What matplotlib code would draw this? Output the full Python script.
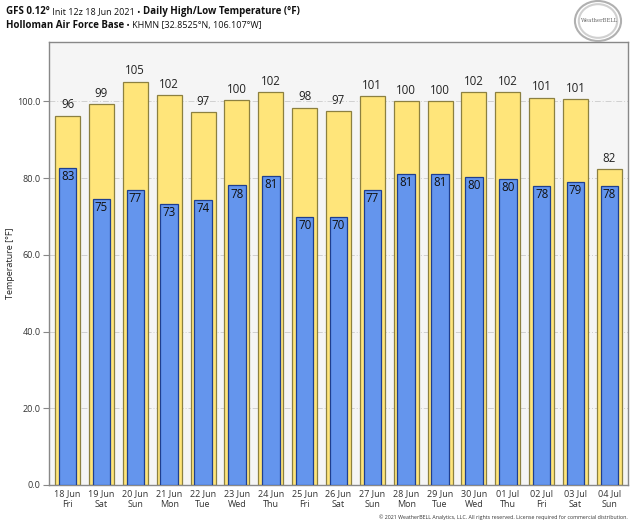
import matplotlib
matplotlib.use("Agg")
import matplotlib.pyplot as plt
from matplotlib.patches import Ellipse

plt.rcParams["font.family"] = ["Open Sans", "DejaVu Sans"]

# Daily values
dates = ["18 Jun", "19 Jun", "20 Jun", "21 Jun", "22 Jun", "23 Jun", "24 Jun",
         "25 Jun", "26 Jun", "27 Jun", "28 Jun", "29 Jun", "30 Jun", "01 Jul",
         "02 Jul", "03 Jul", "04 Jul"]
weekdays = ["Fri", "Sat", "Sun", "Mon", "Tue", "Wed", "Thu", "Fri", "Sat",
            "Sun", "Mon", "Tue", "Wed", "Thu", "Fri", "Sat", "Sun"]
highs = [96.3, 99.3, 105.2, 101.6, 97.3, 100.4, 102.4, 98.4, 97.4, 101.3,
         100.0, 100.2, 102.4, 102.4, 101.0, 100.7, 82.4]
lows = [82.7, 74.6, 77.0, 73.2, 74.4, 78.1, 80.6, 70.0, 69.8, 77.0, 81.1,
        81.0, 80.4, 79.7, 77.9, 78.9, 78.0]
yticks = [0, 20, 40, 60, 80, 100]

fig = plt.figure(figsize=(6.4, 5.26), dpi=100)
ax = fig.add_axes([49 / 640, 1 - 485 / 526, (628 - 49) / 640, (485 - 42) / 526])
ax.set_facecolor("#f5f5f5")

x = list(range(len(dates)))
ax.bar(x, highs, width=0.74, color="#ffe57a", edgecolor="#8c8040", linewidth=0.9, zorder=2)
ax.bar(x, lows, width=0.52, color="#6495ed", edgecolor="#1f3f8f", linewidth=0.9, zorder=3)

for xi, h, l in zip(x, highs, lows):
    ax.annotate(f"{h:.0f}", (xi, h), xytext=(0, 3), textcoords="offset points",
                ha="center", va="bottom", fontsize=8.3, color="#222222", zorder=4)
    ax.annotate(f"{l:.0f}", (xi, l), xytext=(0, -1.5), textcoords="offset points",
                ha="center", va="top", fontsize=8.3, color="#111111", zorder=4)

ax.set_xlim(-0.55, len(dates) - 0.45)
ax.set_ylim(0, 115.5)
ax.set_yticks(yticks)
ax.set_yticklabels([f"{v:.1f}" for v in yticks], fontsize=6.5, color="#333333")
ax.set_xticks(x)
ax.set_xticklabels([f"{d}\n{w}" for d, w in zip(dates, weekdays)],
                   fontsize=6.5, color="#333333", linespacing=1.3)
ax.tick_params(axis="x", length=0, pad=3)
ax.tick_params(axis="y", length=4, color="#888888", pad=2)
ax.yaxis.grid(True, color="#d0d0d0", linestyle=(0, (6, 2, 1, 2)), linewidth=0.7, zorder=0)
ax.set_axisbelow(True)
for s in ax.spines.values():
    s.set_color("#888888")
    s.set_linewidth(1.0)
ax.set_ylabel("Temperature [°F]", fontsize=6.5, color="#222222")
ax.yaxis.set_label_coords((15 - 49) / 579, 0.5)

# title lines, mixed bold / normal pieces placed one after another
t1 = [("GFS 0.12°", True), (" Init 12z 18 Jun 2021 • ", False),
      ("Daily High/Low Temperature (°F)", True)]
t2 = [("Holloman Air Force Base", True), (" • KHMN [32.8525°N, 106.107°W]", False)]

renderer = fig.canvas.get_renderer()
for parts, ypix in [(t1, 14), (t2, 28)]:
    xpix = 6
    for txt, bold in parts:
        if bold:
            kw = dict(fontsize=7, fontweight="bold")
        else:
            kw = dict(fontsize=6.5)
        t = fig.text(xpix / 640, 1 - ypix / 526, txt, color="#111111",
                     va="baseline", ha="left", **kw)
        xpix += t.get_window_extent(renderer).width

# logo stand-in
for w, h, c in [(0.072, 0.076, "#b0b0b0"), (0.06, 0.064, "#d0d0d0")]:
    fig.add_artist(Ellipse((598 / 640, 1 - 21 / 526), w, h, transform=fig.transFigure,
                           facecolor="none", edgecolor=c, linewidth=1.5))
fig.text(600 / 640, 1 - 21 / 526, "WeatherBELL", fontsize=3.8, ha="center", va="center",
         color="#666666", family="DejaVu Serif")

fig.text(628 / 640, 1 - 517 / 526,
         "© 2021 WeatherBELL Analytics, LLC. All rights reserved. License required for commercial distribution.",
         fontsize=3.8, ha="right", va="center", color="#333333")

fig.savefig("out.png", dpi=100, facecolor="white")
